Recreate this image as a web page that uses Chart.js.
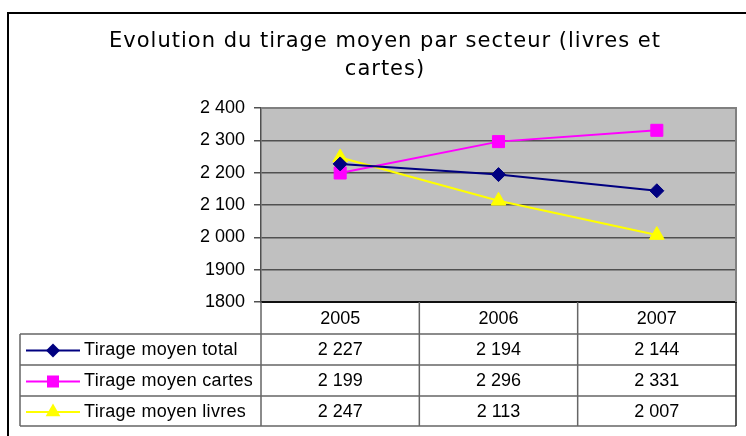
<!DOCTYPE html>
<html>
<head>
<meta charset="utf-8">
<script src="https://cdn.jsdelivr.net/npm/chart.js@4/dist/chart.umd.min.js"></script>
<style>
  html, body { margin: 0; padding: 0; background: #fff; }
  #wrap { width: 746px; height: 436px; }
</style>
</head>
<body>
<div id="wrap"><canvas id="tirageChart" width="746" height="436"></canvas></div>
<script>
// Data
const years = ["2005", "2006", "2007"];
const totalValues = [2227, 2194, 2144];
const cartesValues = [2199, 2296, 2331];
const livresValues = [2247, 2113, 2007];
const seriesNames = ["Tirage moyen total", "Tirage moyen cartes", "Tirage moyen livres"];
const yTickLabels = ["1800", "1900", "2 000", "2 100", "2 200", "2 300", "2 400"];
const titleLines = ["Evolution du tirage moyen par secteur (livres et", "cartes)"];

const FONT = "'Liberation Sans', Arial, sans-serif";

// "2227" -> "2 227"
function fmt(v) {
    const s = String(v);
    return s.length > 3 ? s.slice(0, s.length - 3) + " " + s.slice(-3) : s;
}

// draw a small marker like the ones on the lines
function drawMarker(ctx, style, x, y, r, color) {
    ctx.save();
    ctx.fillStyle = color;
    ctx.beginPath();
    if (style === "rectRot") {
        ctx.moveTo(x, y - r); ctx.lineTo(x + r, y); ctx.lineTo(x, y + r); ctx.lineTo(x - r, y);
    } else if (style === "rect") {
        const h = r * Math.SQRT1_2;
        ctx.rect(x - h, y - h, 2 * h, 2 * h);
    } else {
        for (let k = 0; k < 3; k++) {
            const a = k * 2 * Math.PI / 3;
            const px = x + Math.sin(a) * r, py = y - Math.cos(a) * r;
            k === 0 ? ctx.moveTo(px, py) : ctx.lineTo(px, py);
        }
    }
    ctx.closePath();
    ctx.fill();
    ctx.restore();
}

const series = [
    { label: seriesNames[0], data: totalValues, color: "#000080", style: "rectRot", radius: 7 },
    { label: seriesNames[1], data: cartesValues, color: "#FF00FF", style: "rect", radius: 8.5 },
    { label: seriesNames[2], data: livresValues, color: "#FFFF00", style: "triangle", radius: 8.5 }
];

// Background, frame, title and data table
const excelLook = {
    id: "excelLook",
    beforeDraw(chart) {
        const ctx = chart.ctx, a = chart.chartArea;
        ctx.save();
        ctx.fillStyle = "#fff";
        ctx.fillRect(0, 0, chart.width, chart.height);
        // outer frame (top and left visible)
        ctx.strokeStyle = "#000";
        ctx.lineWidth = 2;
        ctx.beginPath();
        ctx.moveTo(8, 436);
        ctx.lineTo(8, 13);
        ctx.lineTo(746, 13);
        ctx.stroke();
        // plot area
        ctx.fillStyle = "#C0C0C0";
        ctx.fillRect(a.left, a.top, a.right - a.left, a.bottom - a.top);
        // title
        ctx.fillStyle = "#000";
        ctx.font = "21px 'DejaVu Sans', Verdana, sans-serif";
        ctx.letterSpacing = "1px";
        ctx.textAlign = "center";
        ctx.textBaseline = "middle";
        titleLines.forEach((t, i) => ctx.fillText(t, 385, 42 + i * 28));
        ctx.restore();
    },
    beforeDatasetsDraw(chart) {
        const ctx = chart.ctx, a = chart.chartArea;
        ctx.save();
        ctx.strokeStyle = "#808080";
        ctx.lineWidth = 2;
        ctx.beginPath();
        ctx.moveTo(a.left, a.top);
        ctx.lineTo(a.right, a.top);
        ctx.lineTo(a.right, a.bottom);
        ctx.stroke();
        ctx.restore();
    },
    afterDraw(chart) {
        const ctx = chart.ctx, a = chart.chartArea, x = chart.scales.x;
        const half = (x.getPixelForValue(1) - x.getPixelForValue(0)) / 2;
        const tableLeft = 20;
        const rowTops = [a.bottom, 334, 365, 396, 426];
        ctx.save();
        ctx.strokeStyle = "#666";
        ctx.lineWidth = 1.5;
        ctx.beginPath();
        // horizontal lines
        for (let r = 1; r < rowTops.length; r++) {
            ctx.moveTo(tableLeft, rowTops[r]);
            ctx.lineTo(a.right, rowTops[r]);
        }
        // vertical lines
        ctx.moveTo(tableLeft, rowTops[1]);
        ctx.lineTo(tableLeft, rowTops[4]);
        years.forEach((y, i) => {
            const cx = x.getPixelForValue(i);
            ctx.moveTo(cx - half, rowTops[0]);
            ctx.lineTo(cx - half, rowTops[4]);
        });
        ctx.stroke();
        ctx.strokeStyle = "#222";
        ctx.beginPath();
        ctx.moveTo(a.right, rowTops[0]);
        ctx.lineTo(a.right, rowTops[4]);
        ctx.stroke();

        ctx.fillStyle = "#000";
        ctx.font = "18px " + FONT;
        ctx.textBaseline = "middle";
        ctx.textAlign = "center";
        years.forEach((y, i) => {
            ctx.fillText(y, x.getPixelForValue(i), (rowTops[0] + rowTops[1]) / 2 + 1);
        });
        series.forEach((s, r) => {
            const cy = (rowTops[r + 1] + rowTops[r + 2]) / 2 + 1;
            ctx.textAlign = "center";
            ctx.fillStyle = "#000";
            ctx.letterSpacing = "0px";
            s.data.forEach((v, i) => ctx.fillText(fmt(v), x.getPixelForValue(i), cy));
            // legend key
            ctx.strokeStyle = s.color;
            ctx.lineWidth = 2;
            ctx.beginPath();
            ctx.moveTo(26, cy);
            ctx.lineTo(80, cy);
            ctx.stroke();
            drawMarker(ctx, s.style, 53, cy, s.radius, s.color);
            ctx.textAlign = "left";
            ctx.fillStyle = "#000";
            ctx.letterSpacing = "0.3px";
            ctx.fillText(s.label, 84, cy);
        });
        ctx.restore();
    }
};

new Chart(document.getElementById("tirageChart").getContext("2d"), {
    type: "line",
    data: {
        labels: years,
        datasets: series.map(s => ({
            label: s.label,
            data: s.data,
            borderColor: s.color,
            backgroundColor: s.color,
            borderWidth: 2,
            pointStyle: s.style,
            pointRadius: s.radius,
            pointBorderWidth: 1,
            pointBorderColor: s.color,
            pointBackgroundColor: s.color,
            tension: 0,
            fill: false
        }))
    },
    options: {
        responsive: false,
        animation: false,
        layout: { padding: { left: 0, right: 10, top: 108, bottom: 134 } },
        plugins: {
            legend: { display: false },
            title: { display: false },
            tooltip: { enabled: false }
        },
        scales: {
            x: {
                offset: true,
                ticks: { display: false },
                grid: { display: false, drawTicks: false },
                border: { display: true, color: "#111", width: 2 },
                afterFit(scale) { scale.height = 0; }
            },
            y: {
                min: 1800,
                max: 2400,
                ticks: {
                    stepSize: 100,
                    color: "#000",
                    padding: 9,
                    font: { family: FONT, size: 18 },
                    callback: (v, i) => yTickLabels[i]
                },
                grid: { color: "#505050", lineWidth: 1.5, tickLength: 7 },
                border: { color: "#505050", width: 1.5 },
                afterFit(scale) { scale.width = 261; }
            }
        }
    },
    plugins: [excelLook]
});
</script>
</body>
</html>
